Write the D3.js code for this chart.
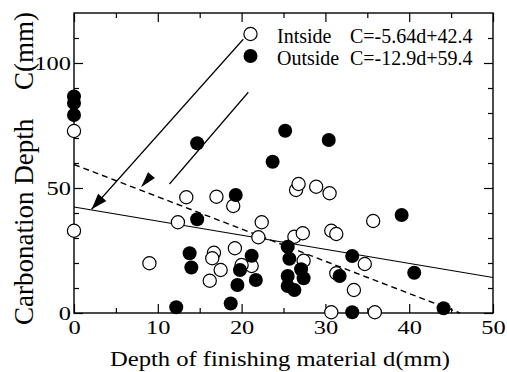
<!DOCTYPE html>
<html>
<head>
<meta charset="utf-8">
<script src="https://cdn.jsdelivr.net/npm/d3@7"></script>
<style>
  body { margin: 0; background: #fff; }
  svg { display: block; }
</style>
</head>
<body>
<div class="chart"></div>
<script>
// axis ticks
const xTicksMajor = [0, 10, 20, 30, 40, 50];
const xTicksMinor = [5, 15, 25, 35, 45];
const yTicksMajor = [0, 50, 100];
const yTicksMinor = [10, 20, 30, 40, 60, 70, 80, 90, 110];

// Inside (open circles): depth of finishing d(mm), carbonation C(mm)
const insideDepth = [0, 0, 9.0, 12.4, 13.4, 17.0, 19.0, 22.4, 22.0, 26.5, 26.8, 28.9, 30.5,
  26.3, 27.3, 30.7, 31.3, 35.7, 27.4, 16.7, 16.5, 17.5, 16.2, 19.2, 21.2, 20.0,
  31.3, 34.7, 33.4, 30.7, 35.9];
const insideCarb = [72.8, 32.9, 19.9, 36.3, 46.3, 46.5, 42.8, 36.3, 30.3, 49.2, 51.6, 50.5, 47.9,
  30.5, 31.9, 32.9, 31.6, 36.8, 20.9, 24.1, 21.9, 17.2, 12.9, 25.9, 18.8, 19.2,
  15.9, 19.6, 9.2, 0.3, 0.3];

// Outside (filled circles)
const outsideDepth = [0, 0, 0, 14.7, 25.2, 30.4, 23.7, 19.3, 14.7, 39.1, 25.5, 25.7, 13.8, 14.0,
  21.2, 19.8, 19.5, 21.7, 18.7, 12.2, 25.5, 27.1, 27.4, 25.5, 26.3, 33.2, 31.7,
  33.2, 40.6, 44.1];
const outsideCarb = [86.6, 84.0, 79.2, 67.9, 72.9, 69.2, 60.5, 47.2, 37.5, 39.2, 26.5, 21.7, 23.9, 18.2,
  22.9, 17.2, 11.2, 13.2, 3.8, 2.3, 14.8, 17.5, 13.9, 10.8, 9.2, 22.8, 14.8,
  0.3, 16.1, 1.9];

// regression lines, d in cm in the printed formulas
const seriesNames = ["Intside", "Outside"];
const fitSlope = [-5.64, -12.9];
const fitIntercept = [42.4, 59.4];
const fitLabels = ["C=-5.64d+42.4", "C=-12.9d+59.4"];

// annotation arrows in data units [d, C]
const arrowFrom = [[20.2, 109.5], [20.8, 88.3]];
const arrowTo = [[2.1, 41.5], [11.4, 51.6]];
const arrowTip = [[2.1, 41.5], [8.0, 50.3]];

const w = 507, h = 372;
const margin = { top: 13, right: 14, bottom: 59, left: 74 };
const serif = '"Liberation Serif", "Times New Roman", serif';

const svg = d3.select(".chart").append("svg")
  .attr("width", w)
  .attr("height", h)
  .attr("font-family", serif);

const x = d3.scaleLinear().domain([0, 50]).range([margin.left, w - margin.right]);
const y = d3.scaleLinear().domain([0, 120]).range([h - margin.bottom, margin.top]);

function drawAxis(axis, transform) {
  const g = svg.append("g").attr("transform", transform).call(axis);
  g.attr("font-family", serif);
  g.select(".domain").remove();
  g.selectAll("line").attr("stroke", "#000").attr("stroke-width", 1.2);
  g.selectAll("text")
    .attr("fill", "#000")
    .attr("font-size", 19)
    .attr("textLength", (d) => String(d).length * 12.2)
    .attr("lengthAdjust", "spacingAndGlyphs");
  return g;
}

const bottom = h - margin.bottom, right = w - margin.right;
drawAxis(d3.axisBottom(x).tickValues(xTicksMajor).tickSizeInner(-9).tickSizeOuter(0).tickPadding(8), `translate(0,${bottom})`);
drawAxis(d3.axisBottom(x).tickValues(xTicksMinor).tickSizeInner(-5).tickSizeOuter(0).tickFormat(""), `translate(0,${bottom})`);
drawAxis(d3.axisTop(x).tickValues(xTicksMajor).tickSizeInner(-9).tickSizeOuter(0).tickFormat(""), `translate(0,${margin.top})`);
drawAxis(d3.axisTop(x).tickValues(xTicksMinor).tickSizeInner(-5).tickSizeOuter(0).tickFormat(""), `translate(0,${margin.top})`);
drawAxis(d3.axisLeft(y).tickValues(yTicksMajor).tickSizeInner(-9).tickSizeOuter(0).tickPadding(3), `translate(${margin.left},0)`);
drawAxis(d3.axisLeft(y).tickValues(yTicksMinor).tickSizeInner(-5).tickSizeOuter(0).tickFormat(""), `translate(${margin.left},0)`);
drawAxis(d3.axisRight(y).tickValues(yTicksMajor).tickSizeInner(-9).tickSizeOuter(0).tickFormat(""), `translate(${right},0)`);
drawAxis(d3.axisRight(y).tickValues(yTicksMinor).tickSizeInner(-5).tickSizeOuter(0).tickFormat(""), `translate(${right},0)`);

svg.append("rect")
  .attr("x", margin.left)
  .attr("y", margin.top)
  .attr("width", right - margin.left)
  .attr("height", bottom - margin.top)
  .attr("fill", "none")
  .attr("stroke", "#000")
  .attr("stroke-width", 1.4);

// regression lines
const line = d3.line().x((d) => x(d[0])).y((d) => y(d[1]));
fitSlope.forEach((s, i) => {
  const k = s / 10;
  let dEnd = 50;
  if (fitIntercept[i] + k * dEnd < 0) dEnd = -fitIntercept[i] / k;
  svg.append("path")
    .attr("d", line([[0, fitIntercept[i]], [dEnd, fitIntercept[i] + k * dEnd]]))
    .attr("fill", "none")
    .attr("stroke", "#000")
    .attr("stroke-width", i === 0 ? 1.2 : 1.4)
    .attr("stroke-dasharray", i === 0 ? null : "6,4");
});

// arrows
arrowFrom.forEach((a, i) => {
  svg.append("path")
    .attr("d", line([a, arrowTo[i]]))
    .attr("stroke", "#000")
    .attr("stroke-width", 1.2);
  const x0 = x(a[0]), y0 = y(a[1]);
  const x1 = x(arrowTo[i][0]), y1 = y(arrowTo[i][1]);
  const len = Math.hypot(x1 - x0, y1 - y0);
  const ux = (x1 - x0) / len, uy = (y1 - y0) / len;
  const tx = x(arrowTip[i][0]), ty = y(arrowTip[i][1]);
  const L = 16, W = i === 0 ? 5.5 : 4.5;
  const bx = tx - ux * L, by = ty - uy * L;
  svg.append("polygon")
    .attr("points", [[tx, ty], [bx - uy * W, by + ux * W], [bx + uy * W, by - ux * W]].map((p) => p.join(",")).join(" "))
    .attr("fill", "#000");
});

// points
svg.append("g").selectAll("circle")
  .data(insideDepth.map((d, i) => [d, insideCarb[i]]))
  .enter().append("circle")
  .attr("cx", (d) => x(d[0]))
  .attr("cy", (d) => y(d[1]))
  .attr("r", 6.6)
  .attr("fill", "#fff")
  .attr("stroke", "#000")
  .attr("stroke-width", 1.2);

svg.append("g").selectAll("circle")
  .data(outsideDepth.map((d, i) => [d, outsideCarb[i]]))
  .enter().append("circle")
  .attr("cx", (d) => x(d[0]))
  .attr("cy", (d) => y(d[1]))
  .attr("r", 7)
  .attr("fill", "#000");

// legend
const legend = svg.append("g");
seriesNames.forEach((name, i) => {
  const cy = 34 + i * 22;
  legend.append("circle")
    .attr("cx", 250.5)
    .attr("cy", cy)
    .attr("r", i === 0 ? 6.6 : 7)
    .attr("fill", i === 0 ? "#fff" : "#000")
    .attr("stroke", i === 0 ? "#000" : null)
    .attr("stroke-width", 1.2);
  legend.append("text")
    .attr("x", 277)
    .attr("y", cy + 9)
    .attr("font-size", 20)
    .text(name);
  legend.append("text")
    .attr("x", 350)
    .attr("y", cy + 8.5)
    .attr("font-size", 20)
    .text(fitLabels[i]);
});

// axis titles
svg.append("text")
  .attr("x", 280)
  .attr("y", 366)
  .attr("text-anchor", "middle")
  .attr("font-size", 21)
  .attr("textLength", 340)
  .attr("lengthAdjust", "spacingAndGlyphs")
  .text("Depth of finishing material d(mm)");

svg.append("text")
  .attr("transform", "translate(33,325) rotate(-90)")
  .attr("font-size", 27)
  .text("Carbonation Depth");

svg.append("text")
  .attr("transform", "translate(33,90) rotate(-90)")
  .attr("font-size", 27)
  .text("C(mm)");
</script>
</body>
</html>
